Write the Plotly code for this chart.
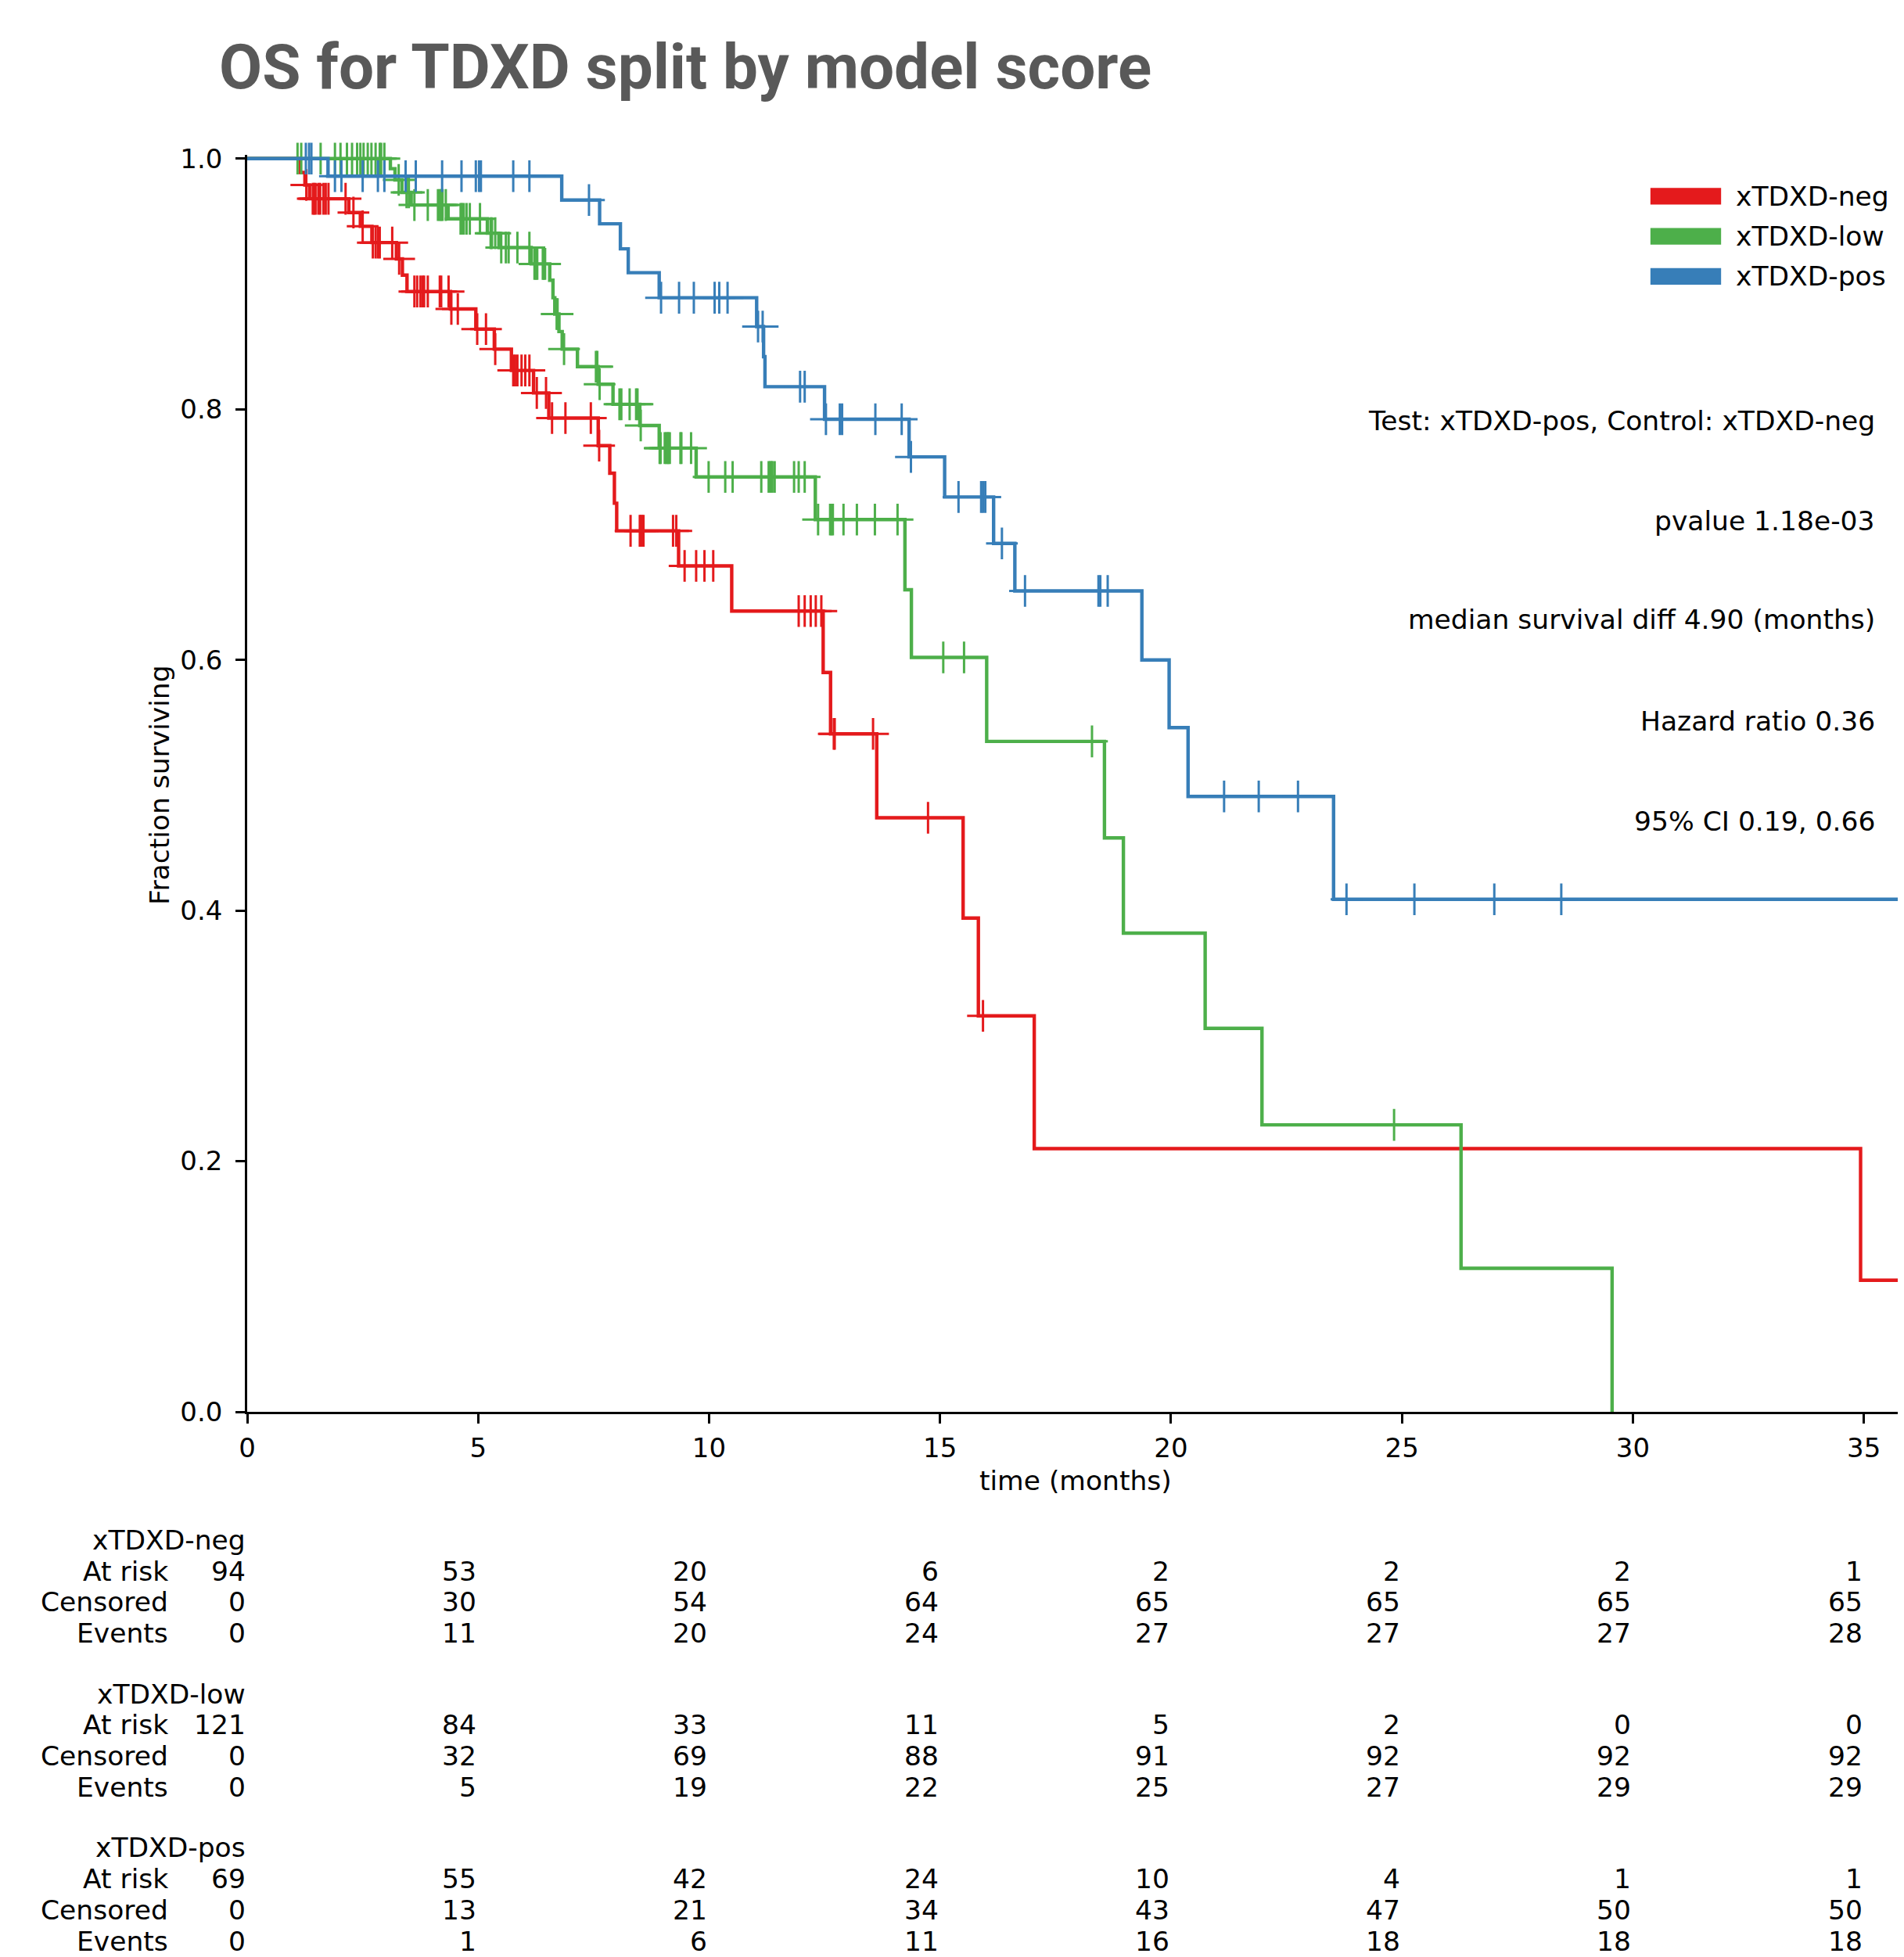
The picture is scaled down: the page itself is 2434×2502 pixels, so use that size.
import numpy as np
import plotly.graph_objects as go

# ---------------- data ----------------
groups = ["xTDXD-neg", "xTDXD-low", "xTDXD-pos"]
colors = ["#e41a1c", "#4daf4a", "#377eb8"]

neg_event_times = [1.15, 1.25, 1.35, 2.2, 2.45, 2.7, 3.23, 3.36, 3.46, 4.40, 4.95, 5.35, 5.72, 6.2,
                   6.53, 7.6, 7.85, 7.95, 8.0, 9.34, 10.49, 12.47, 12.63, 13.63, 15.5, 15.83, 17.04, 34.93]
neg_surv = [0.989, 0.979, 0.968, 0.957, 0.946, 0.933, 0.920, 0.907, 0.894, 0.880, 0.864, 0.848, 0.831,
            0.813, 0.793, 0.771, 0.749, 0.725, 0.703, 0.675, 0.639, 0.590, 0.541, 0.474, 0.394, 0.316,
            0.210, 0.105]
neg_censor_times = [1.28, 1.42, 1.45, 1.48, 1.54, 1.58, 1.65, 1.70, 1.76, 2.13, 2.30, 2.50, 2.72, 2.78,
                    2.83, 2.87, 3.14, 3.29, 3.62, 3.68, 3.75, 3.80, 3.83, 3.91, 4.17, 4.20, 4.36, 4.42,
                    4.56, 4.98,
                    5.17, 5.37, 5.76, 5.80, 5.85, 5.94, 6.02, 6.11, 6.27, 6.47, 6.6, 6.89, 7.44, 7.62,
                    8.30, 8.50, 8.52, 8.55, 8.58, 9.22, 9.29, 9.47, 9.72, 9.90,
                    10.09, 11.94, 12.07, 12.20, 12.31, 12.43, 12.70, 12.72, 13.55, 14.74, 15.93]
neg_last_time = 36.0

low_event_times = [3.1, 3.2, 3.35, 3.55, 4.35, 5.2, 5.45, 6.15, 6.55, 6.62, 6.66, 6.75, 6.82, 7.15,
                   7.6, 7.92, 8.5, 8.92, 9.72, 12.3, 14.24, 14.38, 16.01, 18.56, 18.97, 20.74, 21.97,
                   26.28, 29.55]
low_surv = [0.992, 0.983, 0.973, 0.963, 0.952, 0.9405, 0.929, 0.916, 0.903, 0.889, 0.876, 0.862, 0.848,
            0.834, 0.820, 0.804, 0.787, 0.769, 0.746, 0.712, 0.656, 0.602, 0.535, 0.458, 0.382, 0.306,
            0.229, 0.1145, 0.0]
low_censor_times = [1.09, 1.17, 1.59, 1.9, 2.02, 2.16, 2.27, 2.38, 2.45, 2.52, 2.61, 2.69, 2.78, 2.87,
                    2.90, 2.97, 3.28, 3.45, 3.5, 3.62, 3.91, 4.13, 4.17, 4.20, 4.23, 4.30, 4.62, 4.65,
                    4.69, 4.75, 4.82, 5.04,
                    5.27, 5.30, 5.37, 5.5, 5.60, 5.66, 5.85, 6.11, 6.22, 6.25, 6.28, 6.40, 6.42, 6.45,
                    6.70, 6.72, 6.86, 7.55, 7.58, 7.63, 8.06, 8.10, 8.28, 8.42, 8.45, 8.52, 8.93, 8.95,
                    9.04, 9.07, 9.10, 9.12, 9.15, 9.38, 9.40, 9.61, 9.99,
                    10.35, 10.51, 11.13, 11.29, 11.32, 11.35, 11.37, 11.42, 11.84, 11.94, 12.07, 12.36,
                    12.62, 12.65, 12.68, 12.91, 13.2, 13.59, 14.08,
                    15.07, 15.52, 18.29, 24.83]
low_last_time = 29.55

pos_event_times = [1.75, 6.81, 7.63, 8.08, 8.25, 8.92, 11.03, 11.18, 11.21, 12.5, 14.33, 15.1, 16.16,
                   16.62, 19.37, 19.96, 20.37, 23.52]
pos_surv = [0.986, 0.967, 0.948, 0.928, 0.909, 0.889, 0.866, 0.842, 0.818, 0.792, 0.762, 0.730, 0.693,
            0.655, 0.600, 0.546, 0.491, 0.409]
pos_censor_times = [1.27, 1.34, 1.39, 1.9, 2.04, 2.5, 2.83, 2.97, 3.43, 3.65, 4.22, 4.64, 4.95,
                    5.02, 5.06, 5.76, 6.11, 7.4, 8.96, 9.35, 9.67,
                    10.12, 10.22, 10.4, 11.06, 11.16, 11.97, 12.07, 12.53, 12.83, 12.88, 13.6, 14.17,
                    14.37,
                    15.4, 15.89, 15.93, 15.98, 16.34, 16.84, 18.43, 18.47, 18.63,
                    21.15, 21.9, 22.75, 23.8, 25.27, 27.0, 28.45]
pos_last_time = 36.0

x_ticks = [0, 5, 10, 15, 20, 25, 30, 35]
y_ticks = [0.0, 0.2, 0.4, 0.6, 0.8, 1.0]
y_tick_labels = ["0.0", "0.2", "0.4", "0.6", "0.8", "1.0"]

neg_at_risk = [94, 53, 20, 6, 2, 2, 2, 1]
neg_censored = [0, 30, 54, 64, 65, 65, 65, 65]
neg_events = [0, 11, 20, 24, 27, 27, 27, 28]
low_at_risk = [121, 84, 33, 11, 5, 2, 0, 0]
low_censored = [0, 32, 69, 88, 91, 92, 92, 92]
low_events = [0, 5, 19, 22, 25, 27, 29, 29]
pos_at_risk = [69, 55, 42, 24, 10, 4, 1, 1]
pos_censored = [0, 13, 21, 34, 43, 47, 50, 50]
pos_events = [0, 1, 6, 11, 16, 18, 18, 18]
row_labels = ["At risk", "Censored", "Events"]

stats_lines = ["Test: xTDXD-pos, Control: xTDXD-neg", "pvalue 1.18e-03",
               "median survival diff 4.90 (months)", "Hazard ratio 0.36", "95% CI 0.19, 0.66"]
title_text = "OS for TDXD split by model score"
x_title = "time (months)"
y_title = "Fraction surviving"

# ---------------- layout constants (page pixels, page body has an 8px margin) ----------------
OFF = 8
W, H = 2434 - OFF, 2502 - OFF
L, R = 316 - OFF, 0
X_MAX = 35.87
Y_MAX = 1.003
PLOT_BOTTOM = 1805 - OFF
PLOT_H = 1602 * Y_MAX
T = PLOT_BOTTOM - PLOT_H
B = H - PLOT_BOTTOM
PLOT_W = W - L - R
FONT = "DejaVu Sans"
FS = 34.5
TICK_FS = 34


def py(ypage):
    return (PLOT_BOTTOM - (ypage - OFF)) / PLOT_H


def px(xpage):
    return (xpage - OFF - L) / PLOT_W


def step_at(times, surv, t):
    idx = np.searchsorted(np.asarray(times), np.asarray(t), side="right")
    vals = np.concatenate([[1.0], np.asarray(surv)])
    return vals[idx]


series = [
    (neg_event_times, neg_surv, neg_censor_times, neg_last_time),
    (low_event_times, low_surv, low_censor_times, low_last_time),
    (pos_event_times, pos_surv, pos_censor_times, pos_last_time),
]

fig = go.Figure()
for name, color, (et, sv, ct, last) in zip(groups, colors, series):
    xs = [0.0] + list(et)
    ys = [1.0] + list(sv)
    if last > et[-1]:
        xs.append(last)
        ys.append(sv[-1])
    fig.add_trace(go.Scatter(x=xs, y=ys, mode="lines", line=dict(color=color, width=4.4, shape="hv"),
                             name=name, showlegend=False, hoverinfo="skip"))
    cy = step_at(et, sv, ct)
    fig.add_trace(go.Scatter(x=ct, y=cy, mode="markers", name=name + " censored", showlegend=False,
                             marker=dict(symbol="cross-thin", size=29, color=color,
                                         line=dict(width=3, color=color)),
                             cliponaxis=False, hoverinfo="skip"))

annotations = []
shapes = []
txt_font = dict(family=FONT, size=FS, color="black")

# legend (patches)
leg_y = [0.970, 0.938, 0.906]
for name, color, ly in zip(groups, colors, leg_y):
    shapes.append(dict(type="rect", xref="x", yref="y", x0=30.38, x1=31.91, y0=ly - 0.0066, y1=ly + 0.0066,
                       fillcolor=color, line=dict(width=0)))
    annotations.append(dict(x=32.19, y=ly, xref="x", yref="y", text=name, showarrow=False,
                            xanchor="left", yanchor="middle", font=txt_font))

# stats text
stat_y = [0.791, 0.711, 0.632, 0.551, 0.471]
for txt, sy in zip(stats_lines, stat_y):
    annotations.append(dict(x=35.27, y=sy, xref="x", yref="y", text=txt, showarrow=False,
                            xanchor="right", yanchor="middle", font=txt_font))

# axis titles
annotations.append(dict(x=X_MAX / 2, y=py(1893), xref="x", yref="paper", text=x_title, showarrow=False,
                        xanchor="center", yanchor="middle", font=txt_font))
annotations.append(dict(x=px(204), y=0.5 / Y_MAX, xref="paper", yref="paper", text=y_title, showarrow=False,
                        textangle=-90, xanchor="center", yanchor="middle", font=txt_font))

# at-risk table
tables = [
    (neg_at_risk, neg_censored, neg_events),
    (low_at_risk, low_censored, low_events),
    (pos_at_risk, pos_censored, pos_events),
]
label_x = px(217)
for k, (name, rows) in enumerate(zip(groups, tables)):
    base = 1969 + k * 196.7
    annotations.append(dict(x=0, y=py(base), xref="x", yref="paper", text=name, showarrow=False,
                            xanchor="right", yanchor="middle", font=txt_font))
    for r, (rl, vals) in enumerate(zip(row_labels, rows)):
        yy = py(base + (r + 1) * 39.7)
        annotations.append(dict(x=label_x, y=yy, xref="paper", yref="paper", text=rl, showarrow=False,
                                xanchor="right", yanchor="middle", font=txt_font))
        for xt, v in zip(x_ticks, vals):
            annotations.append(dict(x=xt, y=yy, xref="x", yref="paper", text=str(v), showarrow=False,
                                    xanchor="right", yanchor="middle", font=txt_font))

fig.update_layout(
    width=W, height=H,
    margin=dict(l=L, r=R, t=T, b=B, pad=0),
    paper_bgcolor="white", plot_bgcolor="white",
    title=dict(text=title_text, xref="container", yref="container", x=(280 - OFF) / W,
               y=1 - (85 - OFF) / H, xanchor="left", yanchor="middle",
               font=dict(family="Roboto", size=80, color="#595959", weight=700)),
    xaxis=dict(range=[0, X_MAX], tickvals=x_ticks, ticktext=[str(v) for v in x_ticks],
               showline=True, linecolor="black", linewidth=2.6, ticks="outside", ticklen=12,
               tickwidth=2.6, tickcolor="black", showgrid=False, zeroline=False,
               tickfont=dict(family=FONT, size=TICK_FS, color="black"), ticklabelstandoff=2),
    yaxis=dict(range=[0, Y_MAX], tickvals=y_ticks, ticktext=y_tick_labels,
               showline=True, linecolor="black", linewidth=2.6, ticks="outside", ticklen=12,
               tickwidth=2.6, tickcolor="black", showgrid=False, zeroline=False,
               tickfont=dict(family=FONT, size=TICK_FS, color="black"), ticklabelstandoff=10),
    annotations=annotations,
    shapes=shapes,
    showlegend=False,
)

fig.write_html("out.html")
